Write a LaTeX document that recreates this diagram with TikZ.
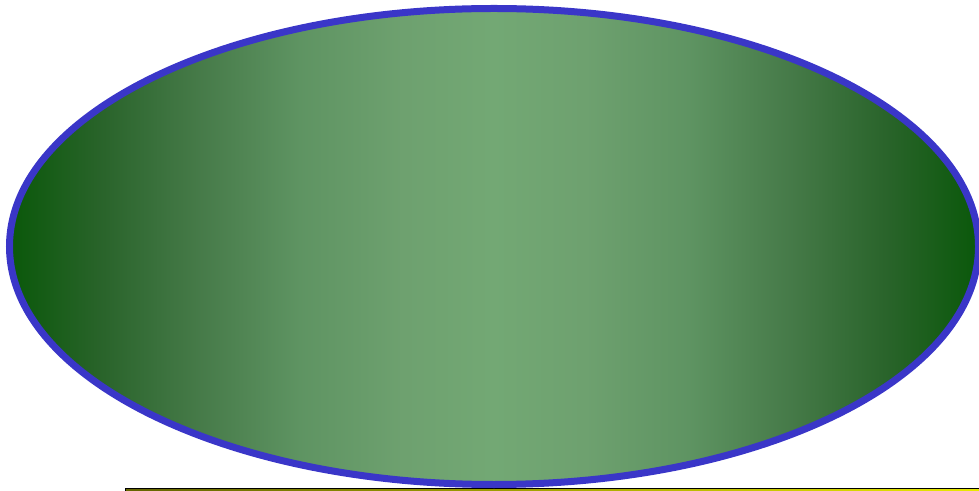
\documentclass[tikz,border=0pt]{standalone}
\usepackage{tikz}

\definecolor{ovalrim}{RGB}{58,54,200}
\definecolor{barolive}{RGB}{100,100,0}
\definecolor{baryellow}{RGB}{236,236,0}

% dark rim, wide light middle
\pgfdeclarehorizontalshading{ovalshade}{100bp}{%
  rgb(0bp)=(0.04,0.345,0.04);
  rgb(25bp)=(0.04,0.345,0.04);
  rgb(29.7bp)=(0.16,0.39,0.165);
  rgb(34.8bp)=(0.275,0.48,0.285);
  rgb(40bp)=(0.37,0.58,0.385);
  rgb(45.2bp)=(0.43,0.63,0.435);
  rgb(50bp)=(0.45,0.66,0.455);
  rgb(54.8bp)=(0.43,0.63,0.435);
  rgb(60bp)=(0.37,0.58,0.385);
  rgb(65.2bp)=(0.275,0.48,0.285);
  rgb(70.3bp)=(0.16,0.39,0.165);
  rgb(75bp)=(0.04,0.345,0.04);
  rgb(100bp)=(0.04,0.345,0.04)}

\begin{document}
\begin{tikzpicture}[x=0.5pt,y=-0.5pt]
\useasboundingbox (0,0) rectangle (979,491);
\clip (0,0) rectangle (979,491);
\draw[line width=0.8pt,left color=barolive,right color=baryellow] (125.5,488.5) rectangle (1000,520);
\draw[line width=3.5pt,draw=ovalrim,shading=ovalshade]
  (494,246.5) ellipse [x radius=484.5,y radius=238];
\end{tikzpicture}
\end{document}
